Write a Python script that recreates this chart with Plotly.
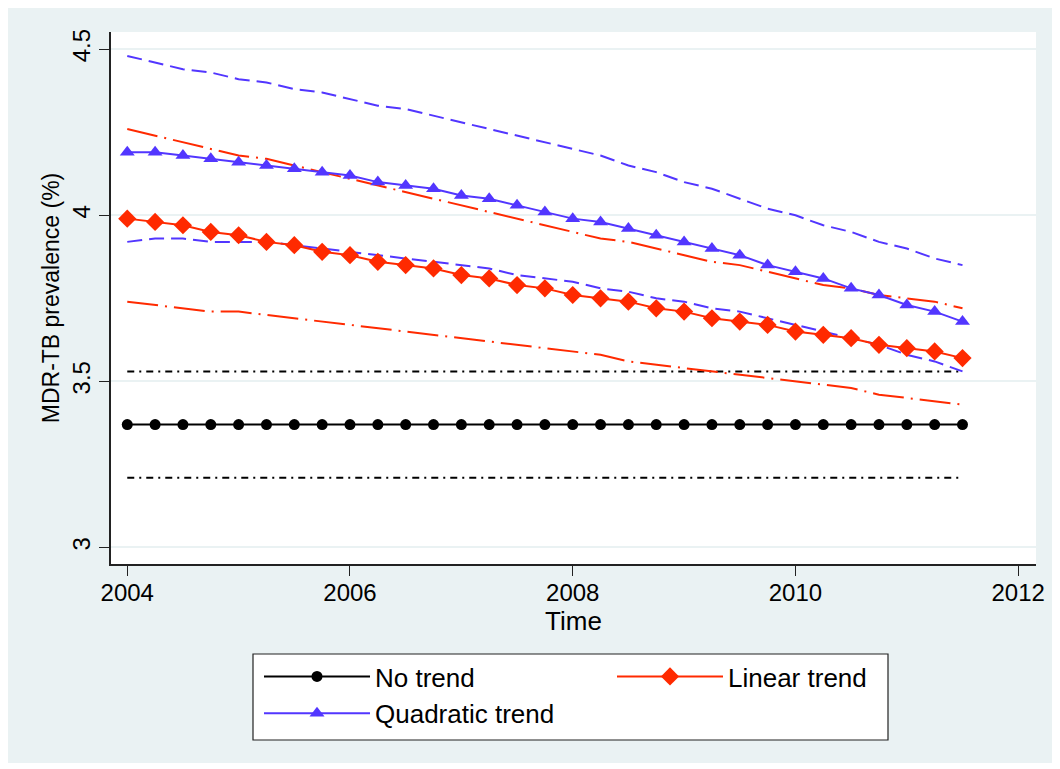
import plotly.graph_objects as go

# ---- data ----
time = [2004 + 0.25 * i for i in range(31)]

no_trend = [3.37] * 31
no_trend_upper = [3.53] * 31
no_trend_lower = [3.21] * 31

linear = [3.99, 3.98, 3.97, 3.95, 3.94, 3.92, 3.91, 3.89, 3.88, 3.86, 3.85,
          3.84, 3.82, 3.81, 3.79, 3.78, 3.76, 3.75, 3.74, 3.72, 3.71, 3.69,
          3.68, 3.67, 3.65, 3.64, 3.63, 3.61, 3.60, 3.59, 3.57]
linear_upper = [4.26, 4.24, 4.22, 4.20, 4.18, 4.17, 4.15, 4.13, 4.11, 4.09, 4.07,
                4.05, 4.03, 4.01, 3.99, 3.97, 3.95, 3.93, 3.92, 3.90, 3.88, 3.86,
                3.85, 3.83, 3.81, 3.79, 3.78, 3.76, 3.75, 3.74, 3.72]
linear_lower = [3.74, 3.73, 3.72, 3.71, 3.71, 3.70, 3.69, 3.68, 3.67, 3.66, 3.65,
                3.64, 3.63, 3.62, 3.61, 3.60, 3.59, 3.58, 3.56, 3.55, 3.54, 3.53,
                3.52, 3.51, 3.50, 3.49, 3.48, 3.46, 3.45, 3.44, 3.43]

quadratic = [4.19, 4.19, 4.18, 4.17, 4.16, 4.15, 4.14, 4.13, 4.12, 4.10, 4.09,
             4.08, 4.06, 4.05, 4.03, 4.01, 3.99, 3.98, 3.96, 3.94, 3.92, 3.90,
             3.88, 3.85, 3.83, 3.81, 3.78, 3.76, 3.73, 3.71, 3.68]
quadratic_upper = [4.48, 4.46, 4.44, 4.43, 4.41, 4.40, 4.38, 4.37, 4.35, 4.33, 4.32,
                   4.30, 4.28, 4.26, 4.24, 4.22, 4.20, 4.18, 4.15, 4.13, 4.10, 4.08,
                   4.05, 4.02, 4.00, 3.97, 3.95, 3.92, 3.90, 3.87, 3.85]
quadratic_lower = [3.92, 3.93, 3.93, 3.92, 3.92, 3.92, 3.91, 3.90, 3.89, 3.88, 3.87,
                   3.86, 3.85, 3.84, 3.82, 3.81, 3.80, 3.78, 3.77, 3.75, 3.74, 3.72,
                   3.71, 3.69, 3.67, 3.65, 3.63, 3.61, 3.58, 3.56, 3.53]

x_ticks = [2004, 2006, 2008, 2010, 2012]
y_ticks = [3, 3.5, 4, 4.5]
y_tick_labels = ["3", "3.5", "4", "4.5"]

BLACK = "#000000"
RED = "#FF2A00"
BLUE = "#5236FF"
BG = "#EAF2F3"
FONT = "Liberation Sans, Arial, sans-serif"

fig = go.Figure()

# confidence bands
for ys, col, dash in [
    (no_trend_upper, BLACK, "7px,5px,2px,5px"),
    (no_trend_lower, BLACK, "7px,5px,2px,5px"),
    (linear_upper, RED, "31px,7px,2px,7px"),
    (linear_lower, RED, "31px,7px,2px,7px"),
    (quadratic_upper, BLUE, "15px,7px"),
    (quadratic_lower, BLUE, "15px,7px"),
]:
    fig.add_trace(go.Scatter(x=time, y=ys, mode="lines",
                             line=dict(color=col, width=2, dash=dash),
                             showlegend=False, hoverinfo="skip"))

# main series
fig.add_trace(go.Scatter(x=time, y=no_trend, mode="lines+markers", name="No trend",
                         line=dict(color=BLACK, width=2),
                         marker=dict(symbol="circle", size=11, color=BLACK),
                         legendrank=1))
fig.add_trace(go.Scatter(x=time, y=quadratic, mode="lines+markers", name="Quadratic trend",
                         line=dict(color=BLUE, width=2),
                         marker=dict(symbol="triangle-up", size=13, color=BLUE),
                         legendrank=3))
fig.add_trace(go.Scatter(x=time, y=linear, mode="lines+markers", name="Linear trend",
                         line=dict(color=RED, width=2),
                         marker=dict(symbol="diamond", size=14, color=RED),
                         legendrank=2))

# page has an 8px body margin; layout computed in page pixels
OFF = 8
W, H = 1052, 761
L = 111 - OFF
T = 32 - OFF
R = W - (1036 - OFF)
B = H - (564 - OFF)
pw, ph = W - L - R, H - T - B


def px(xp):
    return (xp - OFF - L) / pw


def py(yp):
    return (H - B - (yp - OFF)) / ph


shapes = [
    dict(type="rect", xref="paper", yref="paper", x0=px(6), x1=px(1054), y0=py(763), y1=py(6),
         fillcolor=BG, line=dict(width=0), layer="below"),
    dict(type="rect", xref="paper", yref="paper", x0=0, x1=1, y0=0, y1=1,
         fillcolor="white", line=dict(width=0), layer="below"),
    dict(type="rect", xref="paper", yref="paper", x0=px(253), x1=px(888), y0=py(740), y1=py(654),
         fillcolor="white", line=dict(width=1.2, color="#222222"), layer="below"),
]

fig.update_layout(
    width=W, height=H,
    margin=dict(l=L, r=R, t=T, b=B, autoexpand=False),
    paper_bgcolor="white", plot_bgcolor="white",
    font=dict(family=FONT, size=24, color="black"),
    shapes=shapes,
    showlegend=True,
    legend=dict(orientation="h", x=px(259), xanchor="left", y=py(653), yanchor="top",
                bgcolor="rgba(0,0,0,0)", borderwidth=0,
                entrywidth=232, entrywidthmode="pixels", itemwidth=106,
                font=dict(family=FONT, size=26, color="black"),
                traceorder="normal"),
    xaxis=dict(range=[2003.854, 2012.16], tickvals=x_ticks, ticks="outside", ticklen=10,
               tickwidth=1.2, tickcolor="#222222", showgrid=False, zeroline=False,
               showline=True, linecolor="#222222", linewidth=1.5, automargin=False,
               ticklabelstandoff=-4,
               title=dict(text="Time", standoff=2, font=dict(size=26)),
               tickfont=dict(size=24)),
    yaxis=dict(range=[2.95, 4.552], tickvals=y_ticks, ticktext=y_tick_labels,
               tickangle=-90, ticks="outside", ticklen=10, tickwidth=1.2, tickcolor="#222222",
               showgrid=True, gridcolor=BG, gridwidth=2, zeroline=False,
               showline=True, linecolor="#222222", linewidth=1.5, automargin=False,
               title=dict(text="MDR-TB prevalence (%)", standoff=2, font=dict(size=23)),
               tickfont=dict(size=24)),
)

fig.write_html("out.html")
